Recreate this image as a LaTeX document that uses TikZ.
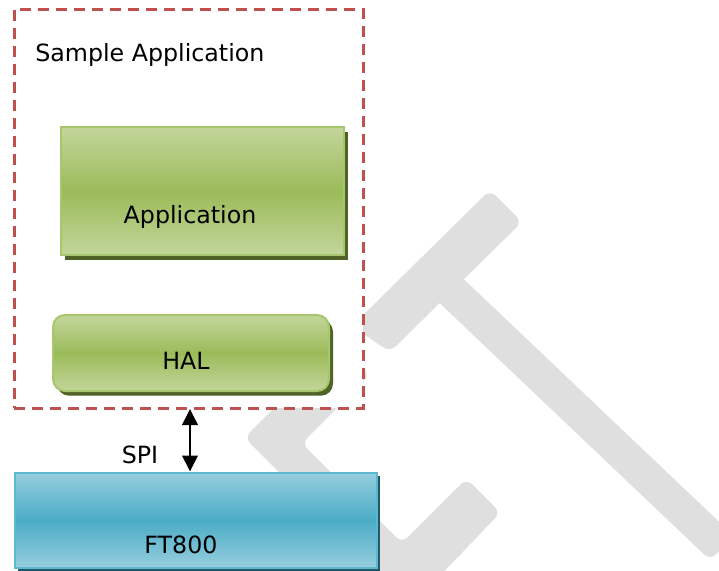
\documentclass[tikz,border=0pt]{standalone}
\usepackage{fontspec}
\setmainfont{DejaVu Sans}
\usetikzlibrary{arrows.meta,shadows}
\definecolor{dashred}{HTML}{C0504D}
\definecolor{glight}{HTML}{C3D69B}
\definecolor{gmid}{HTML}{9BBB59}
\definecolor{gborder}{HTML}{A8C66C}
\definecolor{gshadow}{HTML}{4F6228}
\definecolor{blight}{HTML}{96CEDE}
\definecolor{bmid}{HTML}{4BACC6}
\definecolor{bborder}{HTML}{5CB7CF}
\definecolor{bshadow}{HTML}{215968}
\definecolor{wmark}{HTML}{DFDFDF}
\begin{document}
\begin{tikzpicture}[x=0.75pt,y=-0.75pt,
  lbl/.style={font=\fontsize{17.8pt}{21pt}\selectfont, anchor=base, inner sep=0pt, text=black},
  greenbox/.style={draw=gborder, line width=1.5pt, top color=glight, bottom color=glight, middle color=gmid, inner sep=0pt,
     drop shadow={shadow xshift=3pt, shadow yshift=-3.5pt, fill=gshadow, opacity=1}},
  bluebox/.style={draw=bborder, line width=1.5pt, top color=blight, bottom color=blight, middle color=bmid, inner sep=0pt,
     drop shadow={shadow xshift=2.5pt, shadow yshift=-2.5pt, fill=bshadow, opacity=1}},
  wm/.style={fill=wmark, rounded corners=6pt}
]
\useasboundingbox (0,0) rectangle (719,571);
\begin{scope}
\clip (0,0) rectangle (719,571);
% watermark
\path[wm] (352,326) -- (490,190) -- (522,222) -- (390,352) -- cycle;
\path[wm] (451.7,267.7) -- (733.7,535.7) -- (710.3,560.3) -- (428.3,292.3) -- cycle;
\path[wm] (338.5,343.5) -- (370,375) -- (301.7,443.3) -- (402,543) -- (466.5,478.5) -- (500.5,512.5) -- (412,605) -- (244.5,437.5) -- cycle;
\end{scope}
% dashed container
\node[draw=dashred, fill=white, line width=2.25pt, dash pattern=on 8.25pt off 5.25pt, minimum width=261.75pt, minimum height=299.25pt, inner sep=0pt] (sample) at (188.5,208.5) {};
\node[lbl, anchor=base west] (samplelbl) at (35,61) {Sample Application};
% application
\node[greenbox, rectangle, minimum width=212.25pt, minimum height=96pt] (app) at (202.5,191) {};
\node[lbl] (applbl) at (190,223) {Application};
% HAL
\node[greenbox, rectangle, rounded corners=9pt, minimum width=207pt, minimum height=57pt] (hal) at (191,353) {};
\node[lbl] (hallbl) at (186,369) {HAL};
% FT800
\node[bluebox, rectangle, minimum width=271.5pt, minimum height=71.25pt] (ft) at (195.5,520) {};
\node[lbl] (ftlbl) at (181,553) {FT800};
% SPI arrow
\coordinate (spitop) at (190,409);
\draw[line width=2pt, {Triangle[length=12pt,width=11.5pt]}-{Triangle[length=12pt,width=11.5pt]}] (spitop) -- (spitop |- ft.north);
\node[lbl] (spilbl) at (140,463) {SPI};
\end{tikzpicture}
\end{document}
